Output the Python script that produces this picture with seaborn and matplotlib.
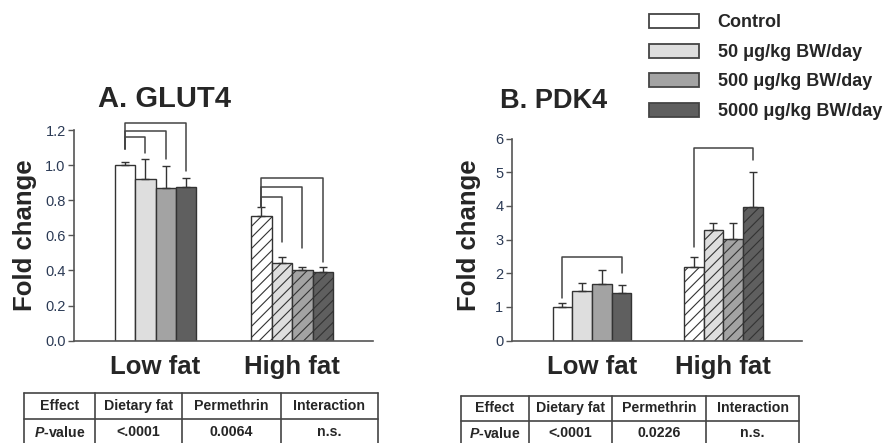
import numpy as np
import pandas as pd
import matplotlib
matplotlib.use("Agg")
import matplotlib.pyplot as plt
import matplotlib.patches as mpatches
import seaborn as sns

# ---- data ----
diets = ["Low fat", "High fat"]
doses = ["Control", "50 μg/kg BW/day", "500 μg/kg BW/day", "5000 μg/kg BW/day"]
colors = ["#ffffff", "#dedede", "#a3a3a3", "#5f5f5f"]

glut4_low = [1.00, 0.92, 0.87, 0.875]
glut4_low_err = [0.02, 0.115, 0.125, 0.05]
glut4_high = [0.71, 0.445, 0.405, 0.39]
glut4_high_err = [0.05, 0.03, 0.015, 0.03]

pdk4_low = [1.01, 1.47, 1.68, 1.43]
pdk4_low_err = [0.10, 0.25, 0.42, 0.22]
pdk4_high = [2.18, 3.28, 3.01, 3.98]
pdk4_high_err = [0.29, 0.22, 0.49, 1.02]

# significance brackets: (diet, from dose, to dose, top, left leg end, right leg end)
glut4_brackets = [(0, 0, 1, 1.16, 1.09, 1.07), (0, 0, 2, 1.196, 1.09, 1.033),
                  (0, 0, 3, 1.238, 1.09, 0.968),
                  (1, 0, 1, 0.816, 0.763, 0.564), (1, 0, 2, 0.877, 0.763, 0.526),
                  (1, 0, 3, 0.925, 0.763, 0.45)]
pdk4_brackets = [(0, 0, 3, 2.47, 1.26, 2.0), (1, 0, 3, 5.72, 2.79, 5.36)]

table_header = ["Effect", "Dietary fat", "Permethrin", "Interaction"]
glut4_pvals = ["$P$-value", "<.0001", "0.0064", "n.s."]
pdk4_pvals = ["$P$-value", "<.0001", "0.0226", "n.s."]

sns.set_style("ticks")
plt.rcParams["font.family"] = ["Liberation Sans", "DejaVu Sans"]
plt.rcParams["mathtext.fontset"] = "custom"
plt.rcParams["mathtext.it"] = "Liberation Sans:italic:bold"
plt.rcParams["hatch.linewidth"] = 0.8

tick_col = "#2b3a55"
line_col = "#555555"


def make_df(low, high, low_err, high_err):
    rows = []
    for i, d in enumerate(doses):
        rows.append((diets[0], d, low[i], low_err[i]))
        rows.append((diets[1], d, high[i], high_err[i]))
    return pd.DataFrame(rows, columns=["diet", "dose", "value", "err"])


def draw_panel(ax, df, brackets, ylim, yticks, fmt, xlim, label_x, label_y):
    sns.barplot(data=df, x="diet", y="value", hue="dose", order=diets, hue_order=doses,
                palette=colors, width=0.6, errorbar=None, edgecolor="#333333",
                linewidth=1.0, saturation=1, legend=False, ax=ax)
    bar_conts = list(ax.containers)
    centers = {}
    for i, cont in enumerate(bar_conts):
        xs, hs, es = [], [], []
        for j, bar in enumerate(cont):
            x = bar.get_x() + bar.get_width() / 2
            centers[(j, i)] = x
            xs.append(x)
            hs.append(bar.get_height())
            es.append(df[(df.diet == diets[j]) & (df.dose == doses[i])]["err"].iloc[0])
            if j == 1:
                bar.set_hatch("///")
        ax.errorbar(xs, hs, yerr=[np.zeros(len(es)), es], fmt="none", ecolor="#333333",
                    elinewidth=1.0, capsize=3, capthick=1.0, zorder=1)
    for d, a, b, top, lb, rb in brackets:
        x0, x1 = centers[(d, a)], centers[(d, b)]
        ax.plot([x0, x0, x1, x1], [lb, top, top, rb], color="#444444", lw=1.1,
                clip_on=False, zorder=3)
    ax.set_ylim(*ylim)
    ax.set_xlim(*xlim)
    ax.set_yticks(yticks)
    ax.set_yticklabels([fmt.format(t) for t in yticks])
    sns.despine(ax=ax)
    for s in ["left", "bottom"]:
        ax.spines[s].set_color(line_col)
        ax.spines[s].set_linewidth(1.2)
    ax.tick_params(axis="y", direction="out", length=4, width=1, color=line_col,
                   labelsize=10.5, labelcolor=tick_col, pad=2)
    ax.tick_params(axis="x", length=0, labelsize=18.5, pad=10)
    for t in ax.get_xticklabels():
        t.set_fontweight("bold")
    ax.set_xlabel("")
    ax.set_ylabel("Fold change", fontsize=18.5, fontweight="bold")
    ax.yaxis.set_label_coords(label_x, label_y)


fig = plt.figure(figsize=(8.95, 4.43), dpi=100)
W, H = 895, 443

axA = fig.add_axes([74 / W, 1 - 340.7 / H, 299 / W, 210.7 / H])
draw_panel(axA, make_df(glut4_low, glut4_high, glut4_low_err, glut4_high_err),
           glut4_brackets, (0, 1.2), [0, 0.2, 0.4, 0.6, 0.8, 1.0, 1.2], "{:.1f}",
           (-0.597, 1.593), -0.124, 0.5)

axB = fig.add_axes([511.7 / W, 1 - 340.7 / H, 290 / W, 202.2 / H])
draw_panel(axB, make_df(pdk4_low, pdk4_high, pdk4_low_err, pdk4_high_err),
           pdk4_brackets, (0, 6), [0, 1, 2, 3, 4, 5, 6], "{:.0f}",
           (-0.611, 1.597), -0.105, 0.52)

fig.text(165 / W, 1 - 106.7 / H, "A. GLUT4", ha="center", va="baseline",
         fontsize=21, fontweight="bold")
fig.text(554 / W, 1 - 108.3 / H, "B. PDK4", ha="center", va="baseline",
         fontsize=19.5, fontweight="bold")

# legend
handles = [mpatches.Patch(facecolor=c, edgecolor="#444444", linewidth=1.3, label=d)
           for c, d in zip(colors, doses)]
fig.legend(handles=handles, loc="upper left", bbox_to_anchor=(649.3 / W, 1 - 14 / H),
           frameon=False, borderpad=0, borderaxespad=0, handlelength=2.78,
           handleheight=0.82, handletextpad=1.0, labelspacing=0.68,
           prop={"weight": "bold", "size": 13})

# tables under each panel
ov = fig.add_axes([0, 0, 1, 1])
ov.set_xlim(0, W)
ov.set_ylim(H, 0)
ov.axis("off")


def draw_table(cols, rows, values):
    for x in cols:
        ov.plot([x, x], [rows[0], rows[-1]], color="#444444", lw=1.2, clip_on=False)
    for y in rows:
        ov.plot([cols[0], cols[-1]], [y, y], color="#444444", lw=1.2, clip_on=False)
    for r, texts in enumerate(values):
        yc = (rows[r] + rows[r + 1]) / 2
        for c, t in enumerate(texts):
            xc = (cols[c] + cols[c + 1]) / 2
            ov.text(xc, yc, t, ha="center", va="center", fontsize=10.2, fontweight="bold")


draw_table([24, 95, 182, 281, 378], [393.3, 419.3, 445.3], [table_header, glut4_pvals])
draw_table([461, 528.7, 612, 706, 799.3], [395.7, 420.7, 445.7], [table_header, pdk4_pvals])

fig.savefig("out.png", dpi=100)
